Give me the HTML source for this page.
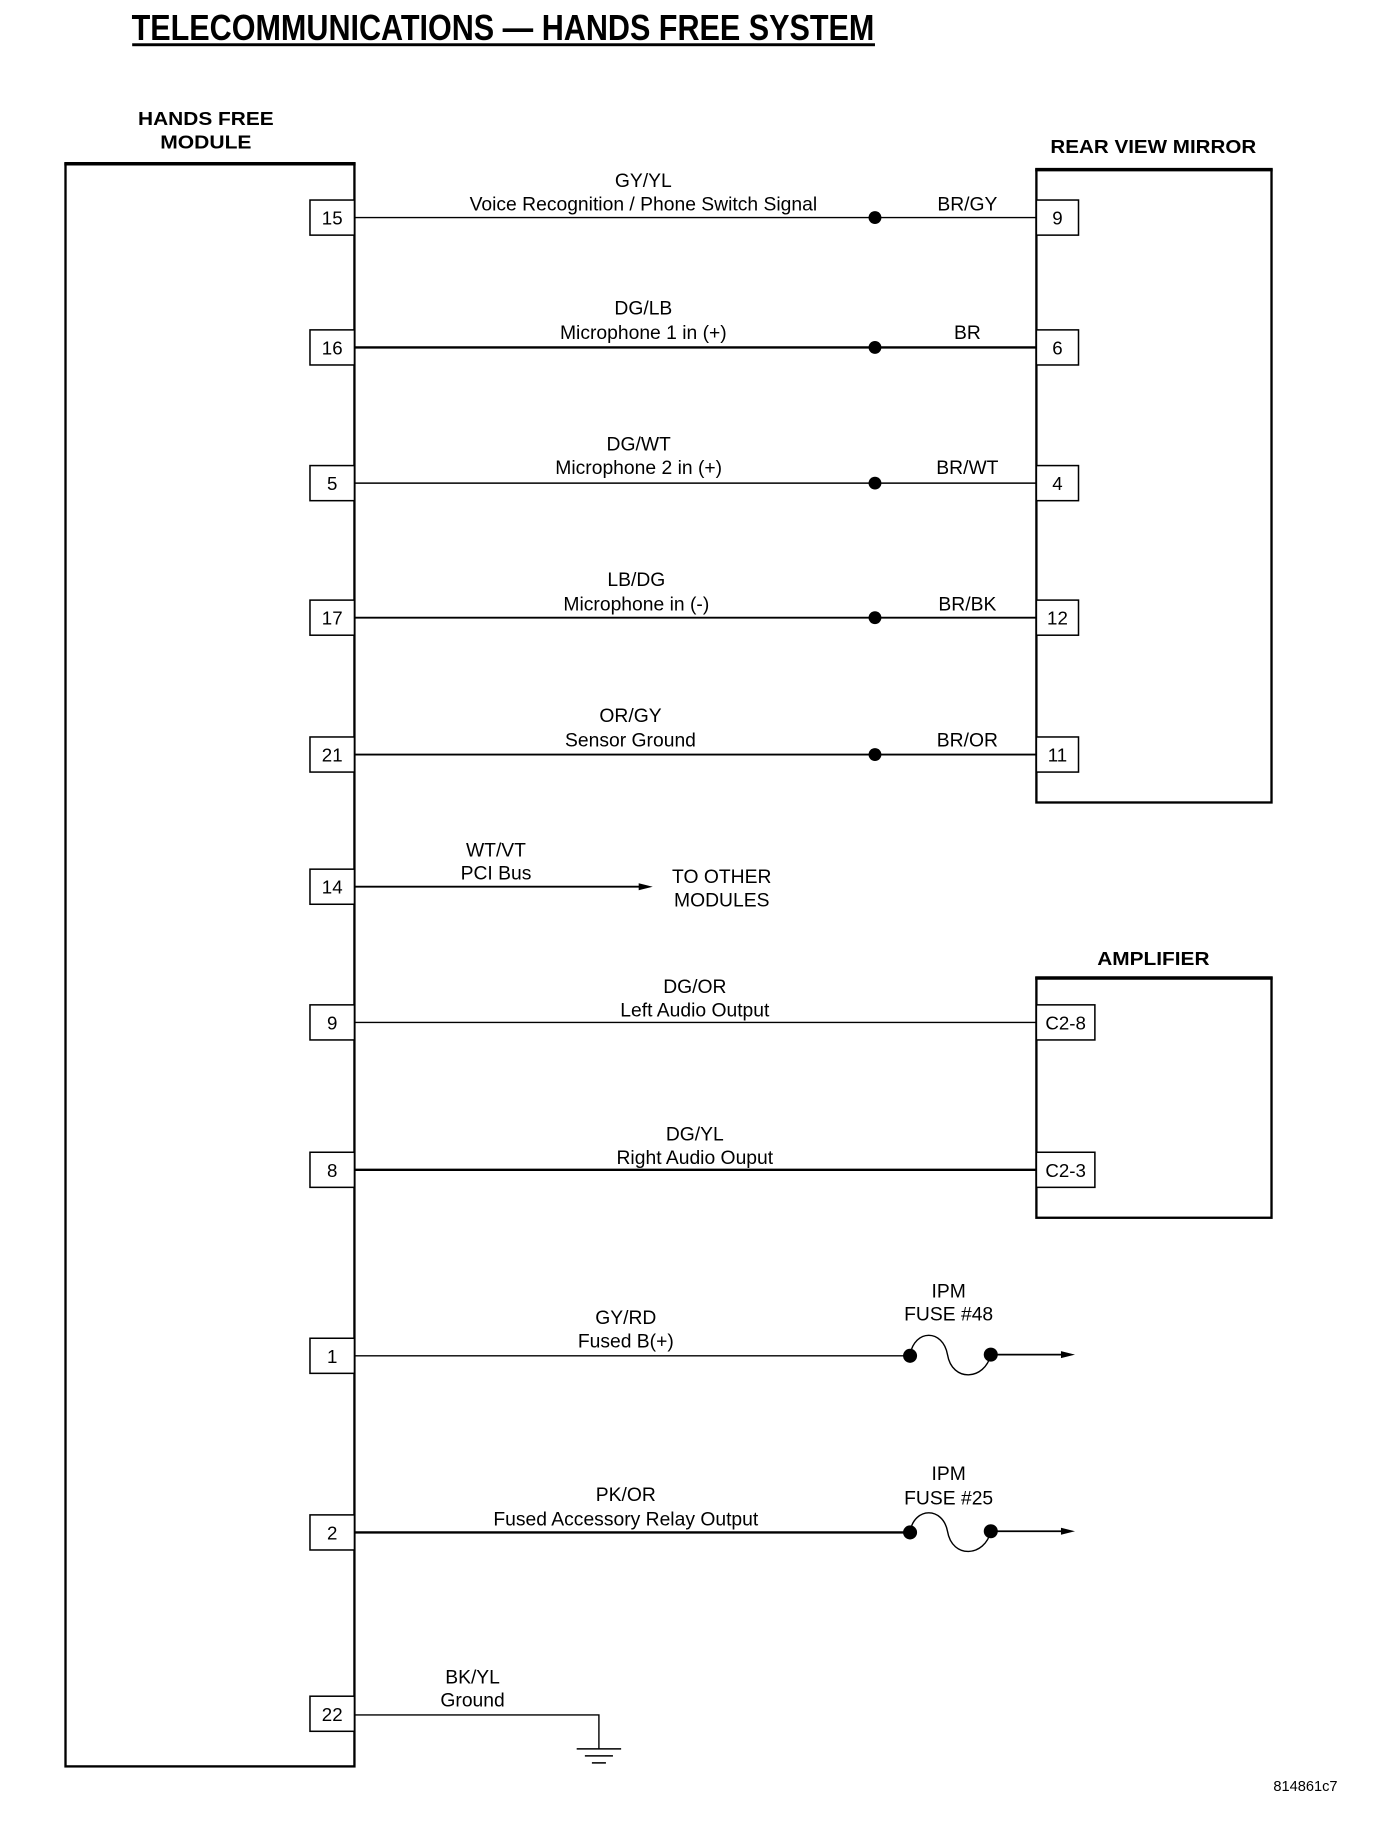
<!DOCTYPE html>
<html><head><meta charset="utf-8"><style>
html,body{margin:0;padding:0;background:#fff;}
svg{display:block;}
text{font-family:"Liberation Sans",Arial,sans-serif;fill:#000;}
</style></head><body>
<svg width="1392" height="1836" viewBox="0 0 1190 1569.5" preserveAspectRatio="none" xmlns="http://www.w3.org/2000/svg">
<g text-anchor="middle">
<text x="430" y="34" font-size="31" font-weight="bold" textLength="635" lengthAdjust="spacingAndGlyphs">TELECOMMUNICATIONS — HANDS FREE SYSTEM</text>
</g>
<rect x="113" y="37" width="635" height="2.5" fill="#000"/>

<g font-size="16" font-weight="bold" text-anchor="middle">
<text x="176" y="107" textLength="116" lengthAdjust="spacingAndGlyphs">HANDS FREE</text>
<text x="176" y="127" textLength="78" lengthAdjust="spacingAndGlyphs">MODULE</text>
<text x="986" y="131" textLength="176" lengthAdjust="spacingAndGlyphs">REAR VIEW MIRROR</text>
<text x="986" y="825" textLength="96" lengthAdjust="spacingAndGlyphs">AMPLIFIER</text>
</g>

<g fill="none" stroke="#000">
<rect x="56" y="140" width="247" height="1370" stroke-width="2"/>
<line x1="55" y1="140" x2="304" y2="140" stroke-width="3"/>
<rect x="886" y="145" width="201" height="541" stroke-width="2"/>
<line x1="885" y1="145" x2="1088" y2="145" stroke-width="3"/>
<rect x="886" y="836" width="201" height="205" stroke-width="2"/>
<line x1="885" y1="836" x2="1088" y2="836" stroke-width="3"/>
</g>

<!-- left pins -->
<g fill="#fff" stroke="#000" stroke-width="1.3">
<rect x="265" y="171" width="38" height="30"/>
<rect x="265" y="282" width="38" height="30"/>
<rect x="265" y="398" width="38" height="30"/>
<rect x="265" y="513" width="38" height="30"/>
<rect x="265" y="630" width="38" height="30"/>
<rect x="265" y="743" width="38" height="30"/>
<rect x="265" y="859" width="38" height="30"/>
<rect x="265" y="985" width="38" height="30"/>
<rect x="265" y="1144" width="38" height="30"/>
<rect x="265" y="1295" width="38" height="30"/>
<rect x="265" y="1450" width="38" height="30"/>
<rect x="886" y="171" width="36" height="30"/>
<rect x="886" y="282" width="36" height="30"/>
<rect x="886" y="398" width="36" height="30"/>
<rect x="886" y="513" width="36" height="30"/>
<rect x="886" y="630" width="36" height="30"/>
<rect x="886" y="859" width="50" height="30"/>
<rect x="886" y="985" width="50" height="30"/>
</g>
<g font-size="16" text-anchor="middle">
<text x="284" y="192">15</text><text x="284" y="303">16</text><text x="284" y="419">5</text>
<text x="284" y="534">17</text><text x="284" y="651">21</text><text x="284" y="764">14</text>
<text x="284" y="880">9</text><text x="284" y="1006">8</text><text x="284" y="1165">1</text>
<text x="284" y="1316">2</text><text x="284" y="1471">22</text>
<text x="904" y="192">9</text><text x="904" y="303">6</text><text x="904" y="419">4</text>
<text x="904" y="534">12</text><text x="904" y="651">11</text>
<text x="911" y="880">C2-8</text><text x="911" y="1006">C2-3</text>
</g>

<!-- wires -->
<g stroke="#000" fill="none">
<line x1="303" y1="186" x2="886" y2="186" stroke-width="1.2"/>
<line x1="303" y1="297" x2="886" y2="297" stroke-width="2"/>
<line x1="303" y1="413" x2="886" y2="413" stroke-width="1.2"/>
<line x1="303" y1="528" x2="886" y2="528" stroke-width="1.6"/>
<line x1="303" y1="645" x2="886" y2="645" stroke-width="1.6"/>
<line x1="303" y1="758" x2="548" y2="758" stroke-width="1.6"/>
<line x1="303" y1="874" x2="886" y2="874" stroke-width="1.2"/>
<line x1="303" y1="1000" x2="886" y2="1000" stroke-width="2"/>
<line x1="303" y1="1159" x2="778" y2="1159" stroke-width="1.2"/>
<line x1="303" y1="1310" x2="778" y2="1310" stroke-width="2"/>
<line x1="847" y1="1158" x2="910" y2="1158" stroke-width="1.5"/>
<line x1="847" y1="1309" x2="910" y2="1309" stroke-width="1.5"/>
<path d="M778,1158 C782,1136 806,1136 810,1158 C814,1182 842,1180 847,1158" stroke-width="1.2"/>
<path d="M778,1309 C782,1288 806,1288 810,1309 C814,1333 842,1331 847,1309" stroke-width="1.2"/>
<polyline points="303,1466 512,1466 512,1495" stroke-width="1.2"/>
<line x1="493" y1="1495" x2="531" y2="1495" stroke-width="1.3"/>
<line x1="500" y1="1501" x2="524" y2="1501" stroke-width="1.3"/>
<line x1="506" y1="1507" x2="518" y2="1507" stroke-width="1.3"/>
</g>
<g fill="#000">
<circle cx="748" cy="186" r="5.5"/><circle cx="748" cy="297" r="5.5"/><circle cx="748" cy="413" r="5.5"/>
<circle cx="748" cy="528" r="5.5"/><circle cx="748" cy="645" r="5.5"/>
<circle cx="778" cy="1159" r="6"/><circle cx="847" cy="1158" r="6"/>
<circle cx="778" cy="1310" r="6"/><circle cx="847" cy="1309" r="6"/>
<polygon points="546,755 558,758 546,761"/>
<polygon points="907,1155 919,1158 907,1161"/>
<polygon points="907,1306 919,1309 907,1312"/>
</g>

<g font-size="16.5" text-anchor="middle">
<text x="550" y="160">GY/YL</text><text x="550" y="180">Voice Recognition / Phone Switch Signal</text><text x="827" y="180">BR/GY</text>
<text x="550" y="269">DG/LB</text><text x="550" y="290">Microphone 1 in (+)</text><text x="827" y="290">BR</text>
<text x="546" y="385">DG/WT</text><text x="546" y="405">Microphone 2 in (+)</text><text x="827" y="405">BR/WT</text>
<text x="544" y="501">LB/DG</text><text x="544" y="522">Microphone in (-)</text><text x="827" y="522">BR/BK</text>
<text x="539" y="617">OR/GY</text><text x="539" y="638">Sensor Ground</text><text x="827" y="638">BR/OR</text>
<text x="424" y="732">WT/VT</text><text x="424" y="752">PCI Bus</text>
<text x="617" y="755">TO OTHER</text><text x="617" y="775">MODULES</text>
<text x="594" y="849">DG/OR</text><text x="594" y="869">Left Audio Output</text>
<text x="594" y="975">DG/YL</text><text x="594" y="995">Right Audio Ouput</text>
<text x="535" y="1132">GY/RD</text><text x="535" y="1152">Fused B(+)</text>
<text x="811" y="1109">IPM</text><text x="811" y="1129">FUSE #48</text>
<text x="535" y="1283">PK/OR</text><text x="535" y="1304">Fused Accessory Relay Output</text>
<text x="811" y="1265">IPM</text><text x="811" y="1286">FUSE #25</text>
<text x="404" y="1439">BK/YL</text><text x="404" y="1459">Ground</text>
</g>
<text x="1116" y="1531" font-size="12.5" text-anchor="middle">814861c7</text>
</svg>
</body></html>
